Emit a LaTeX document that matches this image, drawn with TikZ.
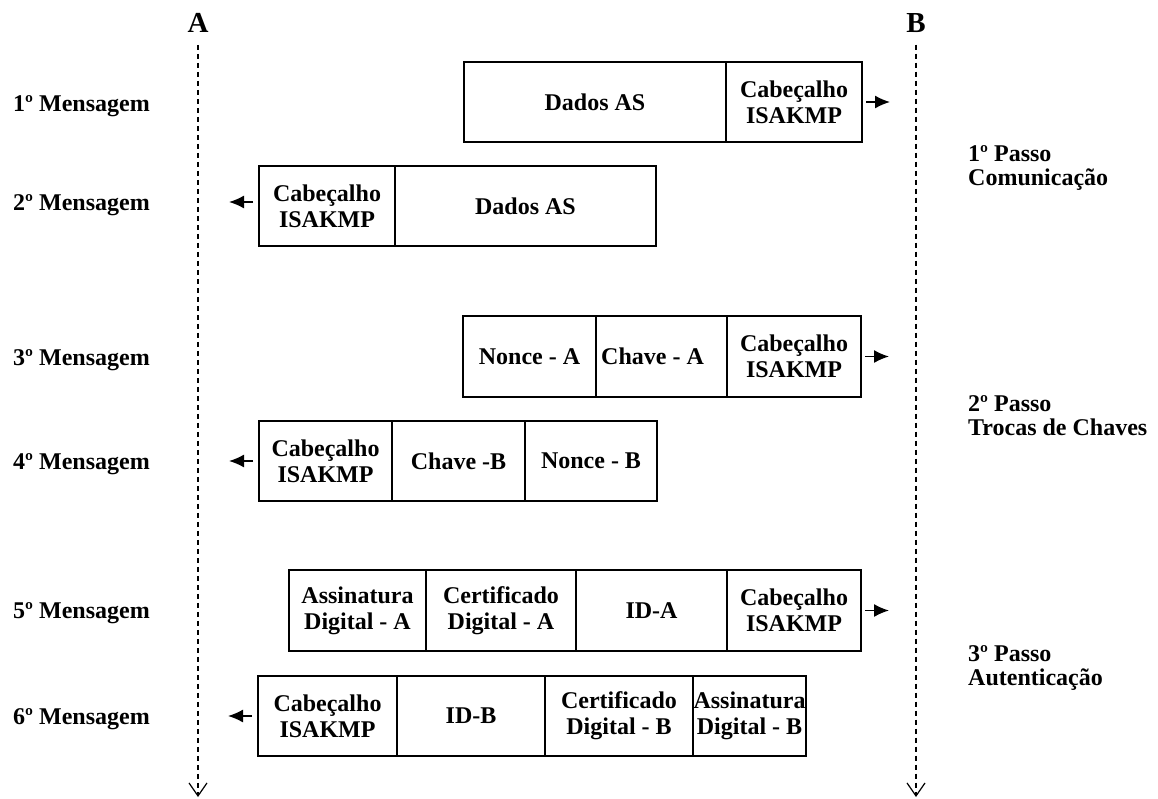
\documentclass[tikz,border=0pt]{standalone}
\usepackage{fontspec}
\setmainfont{Liberation Serif}
\usetikzlibrary{arrows.meta}
\begin{document}
\begin{tikzpicture}[x=1pt,y=-1pt,
  txt/.style={font=\fontsize{24}{24}\selectfont\bfseries},
  cell/.style={font=\fontsize{24}{26}\selectfont\bfseries, draw, line width=1.5pt,
    minimum height=80pt, inner sep=0pt, outer sep=0pt, align=center},
  party/.style={font=\fontsize{29}{30}\selectfont\bfseries, inner sep=0pt},
  lifeline/.style={line width=1.2pt, dash pattern=on 5pt off 4pt,
    -{Straight Barb[length=13pt,width=18pt,line width=1.2pt]}},
  msgarrow/.style={line width=1.5pt, -{Latex[length=15pt,width=13pt]}},
  msgtag/.style={txt, anchor=base west, inner sep=0pt},
  steptag/.style={txt, anchor=west, align=left, inner sep=0pt}]
\useasboundingbox (0,0) rectangle (1158,798);

% the two parties and their lifelines
\node[party] (A) at (198,23) {A};
\node[party] (B) at (916,23) {B};
\coordinate (Abot) at (198,797);
\coordinate (Bbot) at (916,797);
\draw[lifeline] ([yshift=-12pt]A.south) -- (Abot);
\draw[lifeline] ([yshift=-12pt]B.south) -- (Bbot);

% message names
\node[msgtag] (t1) at (13,111) {1º Mensagem};
\node[msgtag] (t2) at (13,210) {2º Mensagem};
\node[msgtag] (t3) at (13,365) {3º Mensagem};
\node[msgtag] (t4) at (13,469) {4º Mensagem};
\node[msgtag] (t5) at (13,618) {5º Mensagem};
\node[msgtag] (t6) at (13,724) {6º Mensagem};

% phases
\node[steptag] (s1) at (968,168) {1º Passo\\Comunicação};
\node[steptag] (s2) at (968,416) {2º Passo\\Trocas de Chaves};
\node[steptag] (s3) at (968,668) {3º Passo\\Autenticação};

% message 1 (A -> B)
\node[cell, minimum width=262pt] (m1a) at (595,102) {Dados AS};
\node[cell, minimum width=136pt] (m1b) at (794,102) {Cabeçalho\\ISAKMP};
\draw[msgarrow] ([xshift=4pt]m1b.east) -- ++(24,0);

% message 2 (B -> A)
\node[cell, minimum width=136pt] (m2a) at (327,206) {Cabeçalho\\ISAKMP};
\node[cell, minimum width=261pt] (m2b) at (525.5,206) {Dados AS};
\draw[msgarrow] ([shift={(-6pt,4pt)}]m2a.west) -- ++(-24,0);

% message 3 (A -> B)
\node[cell, minimum width=133pt, minimum height=81pt] (m3a) at (529.5,356.5) {Nonce - A};
\node[cell, minimum width=131pt, minimum height=81pt] (m3b) at (661.5,356.5) {\hspace*{-18pt}Chave - A};
\node[cell, minimum width=134pt, minimum height=81pt] (m3c) at (794,356.5) {Cabeçalho\\ISAKMP};
\draw[msgarrow] ([xshift=4pt]m3c.east) -- ++(24,0);

% message 4 (B -> A)
\node[cell, minimum width=133pt] (m4a) at (325.5,461) {Cabeçalho\\ISAKMP};
\node[cell, minimum width=133pt] (m4b) at (458.5,461) {Chave -B};
\node[cell, minimum width=132pt] (m4c) at (591,461) {Nonce - B};
\draw[msgarrow] ([xshift=-6pt]m4a.west) -- ++(-24,0);

% message 5 (A -> B)
\node[cell, minimum width=137pt, minimum height=81pt] (m5a) at (357.5,610.5) {Assinatura\\Digital - A};
\node[cell, minimum width=150pt, minimum height=81pt] (m5b) at (501,610.5) {Certificado\\Digital - A};
\node[cell, minimum width=151pt, minimum height=81pt] (m5c) at (651.5,610.5) {ID-A};
\node[cell, minimum width=134pt, minimum height=81pt] (m5d) at (794,610.5) {Cabeçalho\\ISAKMP};
\draw[msgarrow] ([xshift=4pt]m5d.east) -- ++(24,0);

% message 6 (B -> A)
\node[cell, minimum width=139pt] (m6a) at (327.5,716) {Cabeçalho\\ISAKMP};
\node[cell, minimum width=148pt] (m6b) at (471,716) {ID-B};
\node[cell, minimum width=148pt] (m6c) at (619,716) {Certificado\\Digital - B};
\node[cell, minimum width=113pt] (m6d) at (749.5,716) {Assinatura\\Digital - B};
\draw[msgarrow] ([xshift=-6pt]m6a.west) -- ++(-24,0);
\end{tikzpicture}
\end{document}
